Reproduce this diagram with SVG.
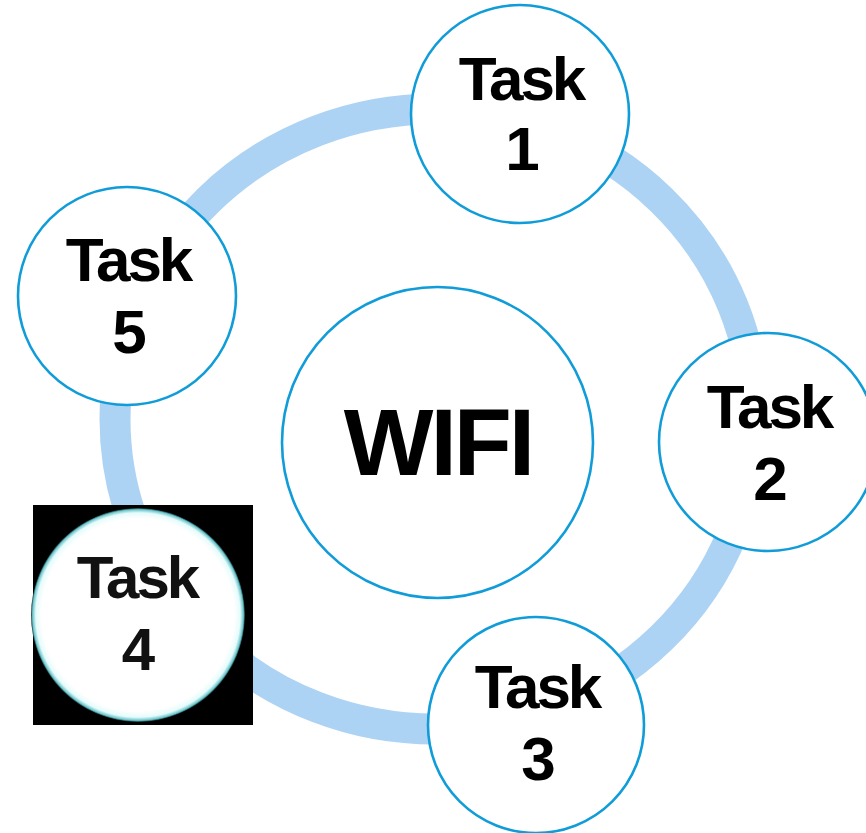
<svg xmlns="http://www.w3.org/2000/svg" width="866" height="833" viewBox="0 0 866 833">
  <style>
    .node { fill: #ffffff; stroke: #109CD8; stroke-width: 2.6; }
    .lbl { font-family: "Liberation Sans", Arial, sans-serif; font-weight: bold; font-size: 62px; letter-spacing: -3px; fill: #000; text-anchor: middle; }
    .big { font-size: 95px; }
  </style>
  <defs>
    <radialGradient id="glow" cx="0.5" cy="0.5" r="0.5">
      <stop offset="0" stop-color="#ffffff"/>
      <stop offset="0.9" stop-color="#ffffff"/>
      <stop offset="0.955" stop-color="#e6fbfb"/>
      <stop offset="0.985" stop-color="#6cc6cc"/>
      <stop offset="1" stop-color="#0c2c30"/>
    </radialGradient>
  </defs>
  <rect x="0" y="0" width="866" height="833" fill="#ffffff"/>
  <g id="connectors">
    <ellipse cx="435" cy="419" rx="320" ry="310" fill="none" stroke="#ADD3F4" stroke-width="31"/>
  </g>
  <g id="wifi">
    <circle class="node" cx="437.5" cy="442.5" r="155.5"/>
    <text class="lbl big" x="438" y="475">WIFI</text>
  </g>
  <g id="task1">
    <circle class="node" cx="520" cy="114" r="109"/>
    <text class="lbl" x="521" y="100">Task</text>
    <text class="lbl" x="521" y="170">1</text>
  </g>
  <g id="task2">
    <circle class="node" cx="768" cy="442" r="109"/>
    <text class="lbl" x="769" y="428">Task</text>
    <text class="lbl" x="769" y="500">2</text>
  </g>
  <g id="task3">
    <circle class="node" cx="536" cy="725" r="108"/>
    <text class="lbl" x="537" y="708">Task</text>
    <text class="lbl" x="537" y="780">3</text>
  </g>
  <g id="task4">
    <rect x="33" y="505" width="220" height="220" fill="#000000"/>
    <circle cx="138" cy="615" r="107" fill="url(#glow)"/>
    <text class="lbl" x="137" y="598" style="font-size:60px;fill:#111">Task</text>
    <text class="lbl" x="137" y="670" style="font-size:60px;fill:#111">4</text>
  </g>
  <g id="task5">
    <circle class="node" cx="127" cy="296" r="109"/>
    <text class="lbl" x="128" y="281">Task</text>
    <text class="lbl" x="128" y="353">5</text>
  </g>
</svg>
